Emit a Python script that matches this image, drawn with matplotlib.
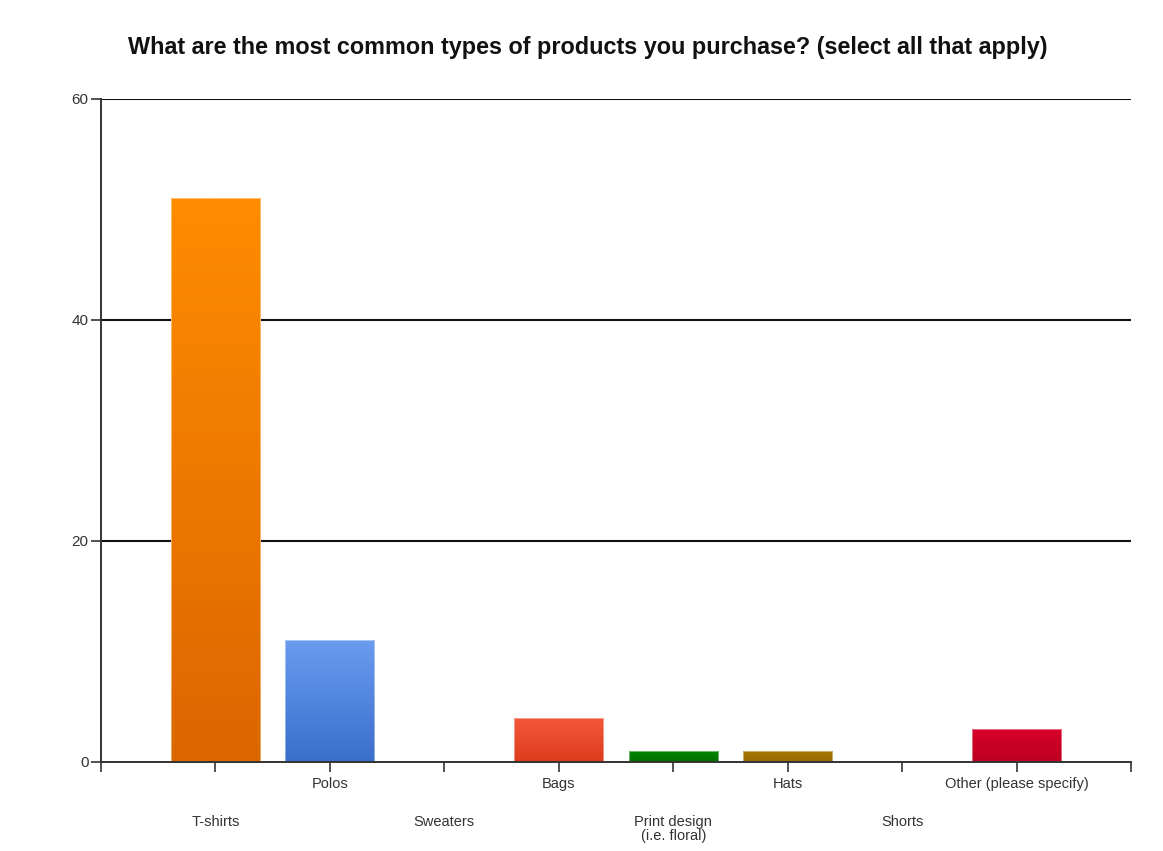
import numpy as np
import matplotlib
matplotlib.use("Agg")
import matplotlib.pyplot as plt
from matplotlib.colors import LinearSegmentedColormap
import matplotlib.transforms as mtransforms

plt.rcParams['font.family'] = ['Liberation Sans', 'DejaVu Sans']

title = "What are the most common types of products you purchase? (select all that apply)"
categories = ["T-shirts", "Polos", "Sweaters", "Bags", "Print design\n(i.e. floral)",
              "Hats", "Shorts", "Other (please specify)"]
counts = [51, 11, 0, 4, 1, 1, 0, 3]
# (top colour, bottom colour) of each bar's vertical gradient
bar_colors = [("#ff8c00", "#dc6600"), ("#6a9cf0", "#3a6ecb"), ("#888888", "#888888"),
              ("#f4583c", "#dc3c1c"), ("#008a00", "#006e00"), ("#a87a00", "#9a6a00"),
              ("#888888", "#888888"), ("#d8002c", "#bc0020")]
yticks = [0, 20, 40, 60]

fig = plt.figure(figsize=(11.63, 8.51), dpi=100)
ax = fig.add_axes([0.0868, 0.1046, 0.9725 - 0.0868, 0.8837 - 0.1046])

x = np.arange(1, len(categories) + 1)
bars = ax.bar(x, counts, width=0.78, color="none", edgecolor="none", zorder=3)

grad = np.linspace(1, 0, 256).reshape(-1, 1)
for patch, (top, bottom), h in zip(bars, bar_colors, counts):
    if h <= 0:
        continue
    cmap = LinearSegmentedColormap.from_list("g", [bottom, top])
    x0 = patch.get_x()
    x1 = x0 + patch.get_width()
    im = ax.imshow(grad, extent=[x0, x1, 0, h], aspect="auto", cmap=cmap,
                   vmin=0, vmax=1, zorder=3, interpolation="bilinear")
    im.set_clip_path(patch)
    ax.add_patch(plt.Rectangle((x0, 0), x1 - x0, h, fill=False,
                               edgecolor="#ffffff", linewidth=0.6, alpha=0.5, zorder=4))

ax.set_xlim(0, len(categories) + 1)
ax.set_ylim(0, 60)

for y in yticks[1:]:
    ax.axhline(y, color="#111111", linewidth=1.5, zorder=2)

for s in ["top", "right"]:
    ax.spines[s].set_visible(False)
for s in ["left", "bottom"]:
    ax.spines[s].set_color("#333333")
    ax.spines[s].set_linewidth(1.4)
ax.spines["bottom"].set_zorder(5)

ax.set_yticks(yticks)
ax.set_yticklabels([str(v) for v in yticks], fontsize=11, color="#333333")
ax.tick_params(axis="y", length=7, width=1.2, color="#333333", pad=2)

ax.set_xticks(np.arange(0, len(categories) + 2))
ax.set_xticklabels([])
ax.tick_params(axis="x", length=7, width=1.2, color="#333333")

trans = mtransforms.blended_transform_factory(ax.transData, ax.transAxes)
for i, (xi, label) in enumerate(zip(x, categories)):
    offset = -11 if i % 2 == 1 else -38
    ax.annotate(label, xy=(xi, 0), xycoords=trans, xytext=(0, offset),
                textcoords="offset points", ha="center", va="top",
                fontsize=10.5, color="#333333", linespacing=1.05)

fig.text(0.505, 0.944, title, ha="center", va="center", fontsize=16.8,
         fontweight="bold", color="#111111")

fig.savefig("out.png", dpi=100, facecolor="white")
